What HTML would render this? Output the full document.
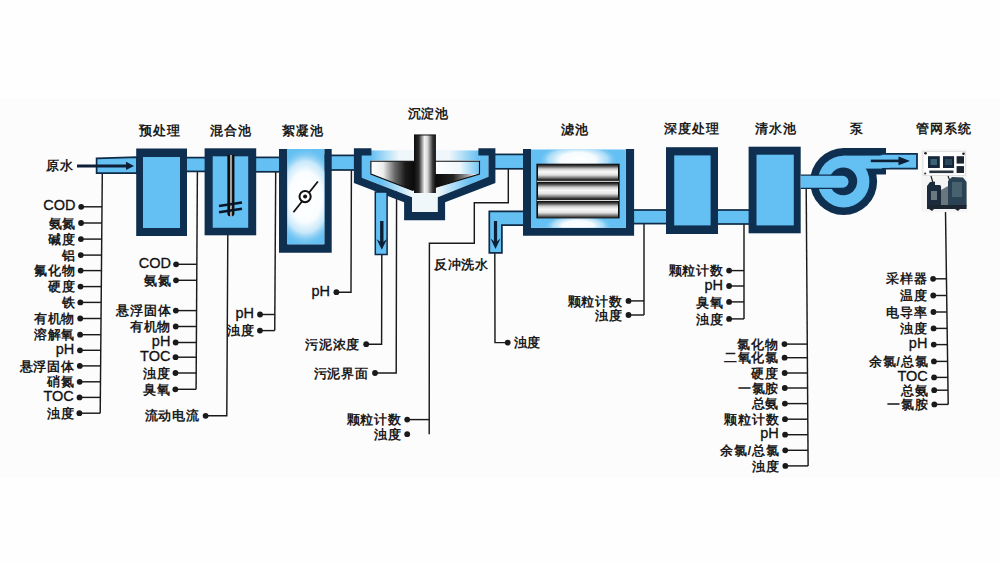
<!DOCTYPE html>
<html><head><meta charset="utf-8">
<style>
html,body{margin:0;padding:0;background:#fcfcfc;width:1000px;height:564px;overflow:hidden}
svg{display:block}
text{font-family:"Liberation Sans",sans-serif;fill:#1d1d1d;font-weight:bold;font-size:13.2px;letter-spacing:0.8px}
.r{text-anchor:end}
.t{text-anchor:middle;font-size:13.2px}
.l{font-weight:normal;font-size:14.5px;letter-spacing:0;fill:#111;stroke:#111;stroke-width:0.3}
</style></head><body>
<svg width="1000" height="564" viewBox="0 0 1000 564">
<defs>
<radialGradient id="glow" cx="0.5" cy="0.5" r="0.5">
<stop offset="0" stop-color="#ffffff"/><stop offset="0.5" stop-color="#f2faff"/><stop offset="1" stop-color="#64bff2" stop-opacity="0"/>
</radialGradient>
<radialGradient id="glow2" cx="0.5" cy="0.5" r="0.5"><stop offset="0" stop-color="#ffffff"/><stop offset="0.45" stop-color="#f6fbfe"/><stop offset="0.75" stop-color="#c6e8fa" stop-opacity="0.7"/><stop offset="1" stop-color="#64bff2" stop-opacity="0"/></radialGradient>
<radialGradient id="glow3" cx="0.5" cy="0.5" r="0.5"><stop offset="0" stop-color="#ffffff"/><stop offset="0.5" stop-color="#fafdff"/><stop offset="0.72" stop-color="#d8effb" stop-opacity="0.85"/><stop offset="1" stop-color="#64bff2" stop-opacity="0"/></radialGradient>
<linearGradient id="cyl" x1="0" y1="0" x2="0" y2="1">
<stop offset="0" stop-color="#141414"/><stop offset="0.1" stop-color="#3c3c3c"/><stop offset="0.3" stop-color="#cfcfcf"/><stop offset="0.48" stop-color="#f8f8f8"/><stop offset="0.68" stop-color="#e2e2e2"/><stop offset="0.86" stop-color="#7a7a7a"/><stop offset="1" stop-color="#1a1a1a"/>
</linearGradient>
<linearGradient id="col" x1="0" y1="0" x2="1" y2="0">
<stop offset="0" stop-color="#0c0c0c"/><stop offset="0.22" stop-color="#2a2a2a"/><stop offset="0.48" stop-color="#f2f2f2"/><stop offset="0.62" stop-color="#d5d5d5"/><stop offset="0.85" stop-color="#3a3a3a"/><stop offset="1" stop-color="#0c0c0c"/>
</linearGradient>
<linearGradient id="shaft" x1="0" y1="0" x2="1" y2="0">
<stop offset="0" stop-color="#050505"/><stop offset="0.3" stop-color="#111"/><stop offset="0.52" stop-color="#f5f5f5"/><stop offset="0.68" stop-color="#1a1a1a"/><stop offset="1" stop-color="#050505"/>
</linearGradient>
<linearGradient id="coneL" gradientUnits="userSpaceOnUse" x1="371" y1="0" x2="414" y2="0">
<stop offset="0" stop-color="#ffffff"/><stop offset="0.28" stop-color="#eeeeee"/><stop offset="0.55" stop-color="#6a6a6a"/><stop offset="0.8" stop-color="#1a1a1a"/><stop offset="1" stop-color="#0a0a0a"/>
</linearGradient>
<linearGradient id="coneR" gradientUnits="userSpaceOnUse" x1="435" y1="0" x2="475" y2="0">
<stop offset="0" stop-color="#0a0a0a"/><stop offset="0.45" stop-color="#222"/><stop offset="0.8" stop-color="#9a9a9a"/><stop offset="1" stop-color="#f0f0f0"/>
</linearGradient>
<linearGradient id="coneTopR" gradientUnits="userSpaceOnUse" x1="435" y1="0" x2="480" y2="0">
<stop offset="0" stop-color="#ffffff"/><stop offset="0.55" stop-color="#eef7fc"/><stop offset="1" stop-color="#6cc4f0"/>
</linearGradient>
<linearGradient id="bandL" gradientUnits="userSpaceOnUse" x1="362" y1="0" x2="412" y2="0">
<stop offset="0" stop-color="#64bff2"/><stop offset="0.35" stop-color="#64bff2"/><stop offset="1" stop-color="#64bff2" stop-opacity="0"/>
</linearGradient>
<linearGradient id="bandR" gradientUnits="userSpaceOnUse" x1="488.5" y1="0" x2="438" y2="0">
<stop offset="0" stop-color="#64bff2"/><stop offset="0.35" stop-color="#64bff2"/><stop offset="1" stop-color="#64bff2" stop-opacity="0"/>
</linearGradient>
<linearGradient id="topL" gradientUnits="userSpaceOnUse" x1="371" y1="0" x2="399" y2="0">
<stop offset="0" stop-color="#64bff2"/><stop offset="1" stop-color="#64bff2" stop-opacity="0"/>
</linearGradient>
<linearGradient id="topR" gradientUnits="userSpaceOnUse" x1="479.5" y1="0" x2="449" y2="0">
<stop offset="0" stop-color="#64bff2"/><stop offset="1" stop-color="#64bff2" stop-opacity="0"/>
</linearGradient>
<filter id="soft" x="-10%" y="-10%" width="120%" height="120%"><feGaussianBlur stdDeviation="0.45"/></filter>
<clipPath id="flocin"><rect x="287.4" y="149" width="36.9" height="95.3"/></clipPath>
<clipPath id="filtin"><rect x="531" y="149.5" width="94.8" height="78.3"/></clipPath>
<clipPath id="sedin"><polygon points="362.7,150 487.7,150 487.7,175.2 437.2,195.6 437.2,211.6 412.4,211.6 412.4,195.6 362.7,175.2"/></clipPath>
</defs>
<rect width="1000" height="564" fill="#fefefe"/>
<rect x="0" y="98" width="1000" height="380" fill="#fcfcfc"/>

<g fill="none" stroke="#1a1a1a" stroke-width="1.45"><polyline points="102.3,173 100.21,413.2"/><polyline points="197.4,171 196.09,389.3"/><polyline points="275.7,172 274.75,330.6"/><polyline points="644.0,224 644.00,315.0"/><polyline points="744.0,224 744.00,318.9"/><polyline points="806.2,188 808.12,465.9"/><polyline points="945.5,211 948.21,404.4"/><polyline points="227.8,235 226.8,415.8 205.6,415.8"/><polyline points="351.4,170 351.0,292.2 336.4,292.2"/><polyline points="381.8,254 381.6,344.2 366.2,344.2"/><polyline points="396.6,183 396.2,373 375,373"/><polyline points="508.3,169 508.3,202.8 474.3,202.8 474.3,243.2 429.4,243.2 429.2,434.2"/><polyline points="494.8,252.8 495.0,342.6 507.7,342.6"/><line x1="81.19" y1="206.8" x2="102.01" y2="206.8"/><line x1="81.05" y1="223.0" x2="101.86" y2="223.0"/><line x1="80.91" y1="239.1" x2="101.72" y2="239.1"/><line x1="80.77" y1="255.1" x2="101.59" y2="255.1"/><line x1="80.64" y1="270.6" x2="101.45" y2="270.6"/><line x1="80.50" y1="286.6" x2="101.31" y2="286.6"/><line x1="80.36" y1="302.4" x2="101.17" y2="302.4"/><line x1="80.22" y1="318.5" x2="101.03" y2="318.5"/><line x1="80.08" y1="334.7" x2="100.89" y2="334.7"/><line x1="79.94" y1="350.3" x2="100.76" y2="350.3"/><line x1="79.81" y1="365.9" x2="100.62" y2="365.9"/><line x1="79.67" y1="381.8" x2="100.48" y2="381.8"/><line x1="79.53" y1="397.4" x2="100.35" y2="397.4"/><line x1="79.40" y1="413.2" x2="100.21" y2="413.2"/><line x1="176.11" y1="264.3" x2="196.84" y2="264.3"/><line x1="176.02" y1="280.3" x2="196.74" y2="280.3"/><line x1="175.84" y1="310.6" x2="196.56" y2="310.6"/><line x1="175.74" y1="326.5" x2="196.47" y2="326.5"/><line x1="175.64" y1="342.5" x2="196.37" y2="342.5"/><line x1="175.56" y1="357.2" x2="196.28" y2="357.2"/><line x1="175.46" y1="373.0" x2="196.19" y2="373.0"/><line x1="175.36" y1="389.3" x2="196.09" y2="389.3"/><line x1="260.03" y1="314.5" x2="274.84" y2="314.5"/><line x1="259.94" y1="330.6" x2="274.75" y2="330.6"/><line x1="628.50" y1="300.9" x2="644.00" y2="300.9"/><line x1="628.50" y1="315.0" x2="644.00" y2="315.0"/><line x1="729.10" y1="270.6" x2="744.00" y2="270.6"/><line x1="729.10" y1="286" x2="744.00" y2="286"/><line x1="729.10" y1="301.9" x2="744.00" y2="301.9"/><line x1="729.10" y1="318.9" x2="744.00" y2="318.9"/><line x1="784.48" y1="344.1" x2="807.28" y2="344.1"/><line x1="784.57" y1="357.7" x2="807.37" y2="357.7"/><line x1="784.68" y1="373" x2="807.48" y2="373"/><line x1="784.78" y1="388" x2="807.58" y2="388"/><line x1="784.89" y1="403.6" x2="807.69" y2="403.6"/><line x1="785.00" y1="419.2" x2="807.80" y2="419.2"/><line x1="785.10" y1="434.7" x2="807.90" y2="434.7"/><line x1="785.21" y1="450.3" x2="808.01" y2="450.3"/><line x1="785.32" y1="465.9" x2="808.12" y2="465.9"/><line x1="933.09" y1="278.8" x2="946.45" y2="278.8"/><line x1="933.25" y1="295.5" x2="946.68" y2="295.5"/><line x1="933.42" y1="312.0" x2="946.91" y2="312.0"/><line x1="933.58" y1="328.4" x2="947.14" y2="328.4"/><line x1="933.75" y1="344.6" x2="947.37" y2="344.6"/><line x1="933.91" y1="361.4" x2="947.61" y2="361.4"/><line x1="934.07" y1="377.4" x2="947.83" y2="377.4"/><line x1="934.20" y1="390.2" x2="948.01" y2="390.2"/><line x1="934.34" y1="404.4" x2="948.21" y2="404.4"/><line x1="407.2" y1="419.6" x2="429.3" y2="419.6"/></g>
<g fill="#1a1a1a"><circle cx="81.19" cy="206.8" r="2.9"/><circle cx="81.05" cy="223.0" r="2.9"/><circle cx="80.91" cy="239.1" r="2.9"/><circle cx="80.77" cy="255.1" r="2.9"/><circle cx="80.64" cy="270.6" r="2.9"/><circle cx="80.50" cy="286.6" r="2.9"/><circle cx="80.36" cy="302.4" r="2.9"/><circle cx="80.22" cy="318.5" r="2.9"/><circle cx="80.08" cy="334.7" r="2.9"/><circle cx="79.94" cy="350.3" r="2.9"/><circle cx="79.81" cy="365.9" r="2.9"/><circle cx="79.67" cy="381.8" r="2.9"/><circle cx="79.53" cy="397.4" r="2.9"/><circle cx="79.40" cy="413.2" r="2.9"/><circle cx="176.11" cy="264.3" r="2.9"/><circle cx="176.02" cy="280.3" r="2.9"/><circle cx="175.84" cy="310.6" r="2.9"/><circle cx="175.74" cy="326.5" r="2.9"/><circle cx="175.64" cy="342.5" r="2.9"/><circle cx="175.56" cy="357.2" r="2.9"/><circle cx="175.46" cy="373.0" r="2.9"/><circle cx="175.36" cy="389.3" r="2.9"/><circle cx="260.03" cy="314.5" r="2.9"/><circle cx="259.94" cy="330.6" r="2.9"/><circle cx="628.50" cy="300.9" r="2.9"/><circle cx="628.50" cy="315.0" r="2.9"/><circle cx="729.10" cy="270.6" r="2.9"/><circle cx="729.10" cy="286" r="2.9"/><circle cx="729.10" cy="301.9" r="2.9"/><circle cx="729.10" cy="318.9" r="2.9"/><circle cx="784.48" cy="344.1" r="2.9"/><circle cx="784.57" cy="357.7" r="2.9"/><circle cx="784.68" cy="373" r="2.9"/><circle cx="784.78" cy="388" r="2.9"/><circle cx="784.89" cy="403.6" r="2.9"/><circle cx="785.00" cy="419.2" r="2.9"/><circle cx="785.10" cy="434.7" r="2.9"/><circle cx="785.21" cy="450.3" r="2.9"/><circle cx="785.32" cy="465.9" r="2.9"/><circle cx="933.09" cy="278.8" r="2.9"/><circle cx="933.25" cy="295.5" r="2.9"/><circle cx="933.42" cy="312.0" r="2.9"/><circle cx="933.58" cy="328.4" r="2.9"/><circle cx="933.75" cy="344.6" r="2.9"/><circle cx="933.91" cy="361.4" r="2.9"/><circle cx="934.07" cy="377.4" r="2.9"/><circle cx="934.20" cy="390.2" r="2.9"/><circle cx="934.34" cy="404.4" r="2.9"/><circle cx="205.6" cy="415.8" r="2.9"/><circle cx="336.4" cy="292.2" r="2.9"/><circle cx="366.2" cy="344.2" r="2.9"/><circle cx="375" cy="373" r="2.9"/><circle cx="407.2" cy="419.6" r="2.9"/><circle cx="407.2" cy="434.2" r="2.9"/><circle cx="507.7" cy="342.6" r="2.9"/></g>


<!-- pipes -->
<g fill="#64bff2" stroke="#0e2a44" stroke-width="1.7">
<polygon points="96.6,158.4 137,157.2 137,173.1 96.6,173.1"/>
<rect x="180" y="157.6" width="30" height="13.8"/>
<rect x="250" y="157.4" width="34" height="14.4"/>
<rect x="325" y="155.4" width="34" height="14.6"/>
<rect x="490" y="154.4" width="38" height="14.4"/>
<rect x="628" y="210" width="42" height="13.6"/>
<rect x="712" y="210" width="40" height="14"/>
</g>
<!-- inlet arrow -->
<line x1="77" y1="165.9" x2="128" y2="165.9" stroke="#0c1f36" stroke-width="3"/>
<polygon points="126,161.8 134,165.9 126,170" fill="#0c1f36"/>

<!-- box 1 预处理 -->
<rect x="136.2" y="148.5" width="50.8" height="87.5" fill="#0f2f50"/>
<rect x="143" y="157" width="37" height="71" fill="#64bff2"/>
<!-- box 2 混合池 -->
<rect x="204.6" y="148.3" width="51.6" height="87" fill="#0f2f50"/>
<rect x="212.7" y="156.3" width="35.5" height="71.5" fill="#64bff2"/>
<path d="M227.4,155 H234.4 V213.5 A3.5,3 0 0 1 227.4,213.5 Z" fill="url(#shaft)"/>
<line x1="219" y1="206" x2="242" y2="202.5" stroke="#0a1626" stroke-width="2.5"/>
<line x1="219" y1="212.2" x2="242" y2="208.7" stroke="#0a1626" stroke-width="2.5"/>
<!-- box 3 絮凝池 -->
<path d="M279,149 H287.4 V244.3 H324.3 V149 H331.7 V252.8 H279 Z" fill="#0f2f50"/>
<rect x="287.4" y="149" width="36.9" height="95.3" fill="#64bff2"/>
<ellipse cx="305.5" cy="197" rx="33" ry="50" fill="url(#glow3)" clip-path="url(#flocin)"/>
<line x1="293.4" y1="212.3" x2="317.9" y2="181.5" stroke="#111" stroke-width="1.8"/>
<circle cx="305.1" cy="196.6" r="5.6" fill="#fff" stroke="#111" stroke-width="2"/>
<circle cx="305.1" cy="196.6" r="2" fill="#111"/>

<!-- sedimentation -->
<polygon points="361.8,150 488.5,150 488.5,176.7 437.8,197.3 437.8,211.9 412,211.9 412,197.3 361.8,177.8" fill="#eff7fb"/>
<polygon points="361.8,150 371.2,150 371.2,170 412,186.6 412,197.3 361.8,177.8" fill="url(#bandL)"/>
<polygon points="488.5,150 479.3,150 479.3,170 437.8,186.6 437.8,197.3 488.5,176.7" fill="url(#bandR)"/>
<rect x="371" y="150.5" width="28" height="10" fill="url(#topL)"/>
<rect x="449" y="150.5" width="30.5" height="10" fill="url(#topR)"/>
<polygon points="353.9,148.3 371.4,148.3 371.4,155.4 361.8,155.4 361.8,177.8 412,197.3 412,211.9 437.8,211.9 437.8,197.3 488.5,176.7 488.5,155.4 478.4,155.4 478.4,148.3 495.4,148.3 495.4,183.1 445.1,202.2 445.1,220.2 404.1,220.2 404.1,202.2 353.9,183.1" fill="#0f2f50"/>
<!-- cone -->
<polygon points="370.9,161.3 425,161.3 425,190.5 413,190.5 370.9,174" fill="url(#coneL)"/>
<rect x="435" y="161.3" width="44.5" height="12.7" fill="url(#coneTopR)"/>
<polygon points="435,174 479.5,174 435,187.5" fill="url(#coneR)"/>
<polyline points="413,190.5 370.9,174 370.9,161.3 479.5,161.3 479.5,174 435,187.5" fill="none" stroke="#0d0d0d" stroke-width="1.1"/>
<rect x="414" y="134.8" width="21.9" height="58.2" fill="url(#col)"/>
<line x1="414" y1="135" x2="435.9" y2="135" stroke="#111" stroke-width="1"/>
<!-- sludge pipe -->
<rect x="375.3" y="192" width="11.8" height="62.5" fill="#64bff2" stroke="#0e2a44" stroke-width="1.5"/>
<line x1="381.8" y1="221" x2="381.8" y2="244" stroke="#0c1f36" stroke-width="3.4"/>
<polygon points="376.6,239 381.8,243 387,239 381.8,249.8" fill="#0c1f36"/>

<!-- backwash pipe -->
<path d="M489.3,211.3 H526 V225.1 H501.9 V252.8 H489.3 Z" fill="#64bff2" stroke="#0e2a44" stroke-width="1.7"/>
<line x1="495.5" y1="221" x2="495.5" y2="243" stroke="#0c1f36" stroke-width="3.2"/>
<polygon points="490.5,238.5 495.5,242.5 500.5,238.5 495.5,249" fill="#0c1f36"/>

<!-- filter -->
<path d="M523,149 H531 V227.8 H625.8 V149 H634.1 V235.7 H523 Z" fill="#0f2f50"/>
<rect x="531" y="149.5" width="94.8" height="78.3" fill="#64bff2"/>
<g clip-path="url(#filtin)"><ellipse cx="578" cy="160" rx="40" ry="17" fill="url(#glow2)"/>
<ellipse cx="578" cy="226" rx="34" ry="12" fill="url(#glow2)"/></g>
<rect x="536.4" y="163.7" width="83.2" height="54.7" fill="#0d0d0d"/>
<g fill="url(#cyl)">
<rect x="538" y="164.2" width="80" height="15.8"/>
<rect x="538" y="182.3" width="80" height="16.8"/>
<rect x="538" y="201.4" width="80" height="16.5"/>
</g>
<rect x="537" y="180.8" width="82" height="1" fill="#f0f0f0"/>
<rect x="537" y="199.9" width="82" height="1" fill="#f0f0f0"/>
<!-- 深度处理 -->
<rect x="666" y="147.2" width="52" height="86.8" fill="#0f2f50"/>
<rect x="674.2" y="155.4" width="36.4" height="70" fill="#64bff2"/>
<!-- 清水池 -->
<rect x="748.6" y="146.7" width="52.1" height="86.6" fill="#0f2f50"/>
<rect x="756.5" y="154.7" width="37.3" height="70.7" fill="#64bff2"/>

<!-- pump -->
<circle cx="843.6" cy="181.6" r="33.5" fill="#0f2f50"/>
<rect x="843.6" y="148" width="42.4" height="26.5" fill="#0f2f50"/>
<circle cx="843.6" cy="181.6" r="25.8" fill="#64bff2"/>
<rect x="843.6" y="155.6" width="42.4" height="13" fill="#64bff2"/>
<path d="M882,153.9 H917 V168.6 H882" fill="#64bff2" stroke="#0f2f50" stroke-width="1.8"/>
<rect x="880" y="155.6" width="10" height="12.2" fill="#64bff2"/>
<circle cx="843.3" cy="181.3" r="13.9" fill="#0f2f50"/>
<path d="M800.7,175.2 H842.6 A6.6,6.6 0 0 1 842.6,188.4 H800.7" fill="#64bff2" stroke="#0f2f50" stroke-width="1.3"/>
<line x1="870.8" y1="160.9" x2="902" y2="160.9" stroke="#0c1f36" stroke-width="2.6"/>
<polygon points="898.5,156.6 910,160.9 898.5,165.2" fill="#0c1f36"/>

<!-- instrument -->
<g filter="url(#soft)">
<rect x="921.2" y="149.3" width="46" height="62.8" fill="#f5f5f5"/>
<rect x="923" y="151.5" width="42.5" height="24" fill="#ffffff" stroke="#d5d5d5" stroke-width="0.7"/>
<circle cx="925.5" cy="153.2" r="1.3" fill="#222"/><circle cx="963.5" cy="153.8" r="1.3" fill="#222"/><circle cx="925.2" cy="173.5" r="1.1" fill="#333"/>
<rect x="928" y="156.2" width="11.8" height="11.8" fill="#16263a"/>
<rect x="930.5" y="159" width="6.5" height="6" fill="#3a6478"/>
<rect x="943" y="156.2" width="11.1" height="11.8" fill="#16263a"/>
<rect x="945" y="159" width="7" height="6" fill="#2c4858"/>
<rect x="956.6" y="156.2" width="7.4" height="7.4" fill="#1a2530"/>
<rect x="956.6" y="166.1" width="7.4" height="6.9" fill="#1a2530"/>
<rect x="929.3" y="170.5" width="24.2" height="2.6" fill="#2a3440"/>
<path d="M931,176 L933,183 M948,176 L950,181" stroke="#222" stroke-width="1.2"/>
<path d="M927,186 L930,182 L936,181.5 L941,186 L941.7,205 L927,205 Z" fill="#1c2a3d"/>
<path d="M941,190 L948,186 L948,206 L941,206 Z" fill="#6a767e"/>
<path d="M948,181 L952,177 L963,177.5 L966.6,182 L966.6,206 L948,206 Z" fill="#2a4352"/>
<rect x="952" y="182" width="10" height="15" fill="#46626e"/>
<rect x="931" y="191" width="6" height="9" fill="#6c7880"/>
<rect x="935" y="181" width="13" height="4" fill="#f3f3f3"/>
<path d="M927,205 H966.6 V209 L960,209 L958,211 L955,209 H934 L932,211 L929,209 H927 Z" fill="#1f2831"/>
</g>

<g><text class="r l" x="75.5" y="210.3">COD</text>
<text class="r" x="76.2" y="227.6">氨氮</text>
<text class="r" x="76.0" y="243.7">碱度</text>
<text class="r" x="75.9" y="259.7">铝</text>
<text class="r" x="75.7" y="275.2">氟化物</text>
<text class="r" x="75.6" y="291.2">硬度</text>
<text class="r" x="75.5" y="307.0">铁</text>
<text class="r" x="75.3" y="323.1">有机物</text>
<text class="r" x="75.2" y="339.3">溶解氧</text>
<text class="r l" x="74.2" y="353.8">pH</text>
<text class="r" x="74.9" y="370.5">悬浮固体</text>
<text class="r" x="74.8" y="386.4">硝氮</text>
<text class="r l" x="73.8" y="400.9">TOC</text>
<text class="r" x="74.5" y="417.8">浊度</text>
<text class="r l" x="170.9" y="267.8">COD</text>
<text class="r" x="171.6" y="284.9">氨氮</text>
<text class="r" x="171.4" y="315.2">悬浮固体</text>
<text class="r" x="171.3" y="331.1">有机物</text>
<text class="r l" x="170.4" y="346.0">pH</text>
<text class="r l" x="170.4" y="360.7">TOC</text>
<text class="r" x="171.1" y="377.6">浊度</text>
<text class="r" x="171.0" y="393.9">臭氧</text>
<text class="r l" x="254.0" y="318.0">pH</text>
<text class="r" x="254.7" y="335.2">浊度</text>
<text class="r" x="622.8" y="305.5">颗粒计数</text>
<text class="r" x="622.8" y="319.6">浊度</text>
<text class="r" x="723.8" y="275.2">颗粒计数</text>
<text class="r l" x="723.0" y="289.5">pH</text>
<text class="r" x="723.8" y="306.5">臭氧</text>
<text class="r" x="723.8" y="323.5">浊度</text>
<text class="r" x="778.9" y="348.7">氯化物</text>
<text class="r" x="779.0" y="362.3">二氧化氯</text>
<text class="r" x="779.1" y="377.6">硬度</text>
<text class="r" x="779.2" y="392.6">一氯胺</text>
<text class="r" x="779.3" y="408.2">总氨</text>
<text class="r" x="779.4" y="423.8">颗粒计数</text>
<text class="r l" x="778.7" y="438.2">pH</text>
<text class="r" x="779.6" y="454.9">余氯/总氯</text>
<text class="r" x="779.7" y="470.5">浊度</text>
<text class="r" x="927.6" y="283.4">采样器</text>
<text class="r" x="927.8" y="300.1">温度</text>
<text class="r" x="927.9" y="316.6">电导率</text>
<text class="r" x="928.1" y="333.0">浊度</text>
<text class="r l" x="927.4" y="348.1">pH</text>
<text class="r" x="928.4" y="366.0">余氯/总氯</text>
<text class="r l" x="927.8" y="380.9">TOC</text>
<text class="r" x="928.7" y="394.8">总氨</text>
<text class="r" x="928.8" y="409.0">一氯胺</text>
<text class="r" x="199.8" y="420.4">流动电流</text>
<text class="r l" x="330.0" y="295.7">pH</text>
<text class="r" x="360.3" y="348.8">污泥浓度</text>
<text class="r" x="368.8" y="377.6">污泥界面</text>
<text class="r" x="401.8" y="424.2">颗粒计数</text>
<text class="r" x="401.8" y="438.8">浊度</text>
<text class="" x="513.6" y="347.2">浊度</text>
<text class="" x="433.8" y="268.6">反冲洗水</text>
<text class="" x="46.0" y="169.6">原水</text>
<text class="t" x="159.7" y="135.2">预处理</text>
<text class="t" x="230.7" y="135.4">混合池</text>
<text class="t" x="303.1" y="135.4">絮凝池</text>
<text class="t" x="428.4" y="117.6">沉淀池</text>
<text class="t" x="575.2" y="133.8">滤池</text>
<text class="t" x="691.8" y="132.6">深度处理</text>
<text class="t" x="776.2" y="132.6">清水池</text>
<text class="t" x="856.8" y="132.6">泵</text>
<text class="t" x="944.0" y="132.6">管网系统</text></g>
</svg>
</body></html>
